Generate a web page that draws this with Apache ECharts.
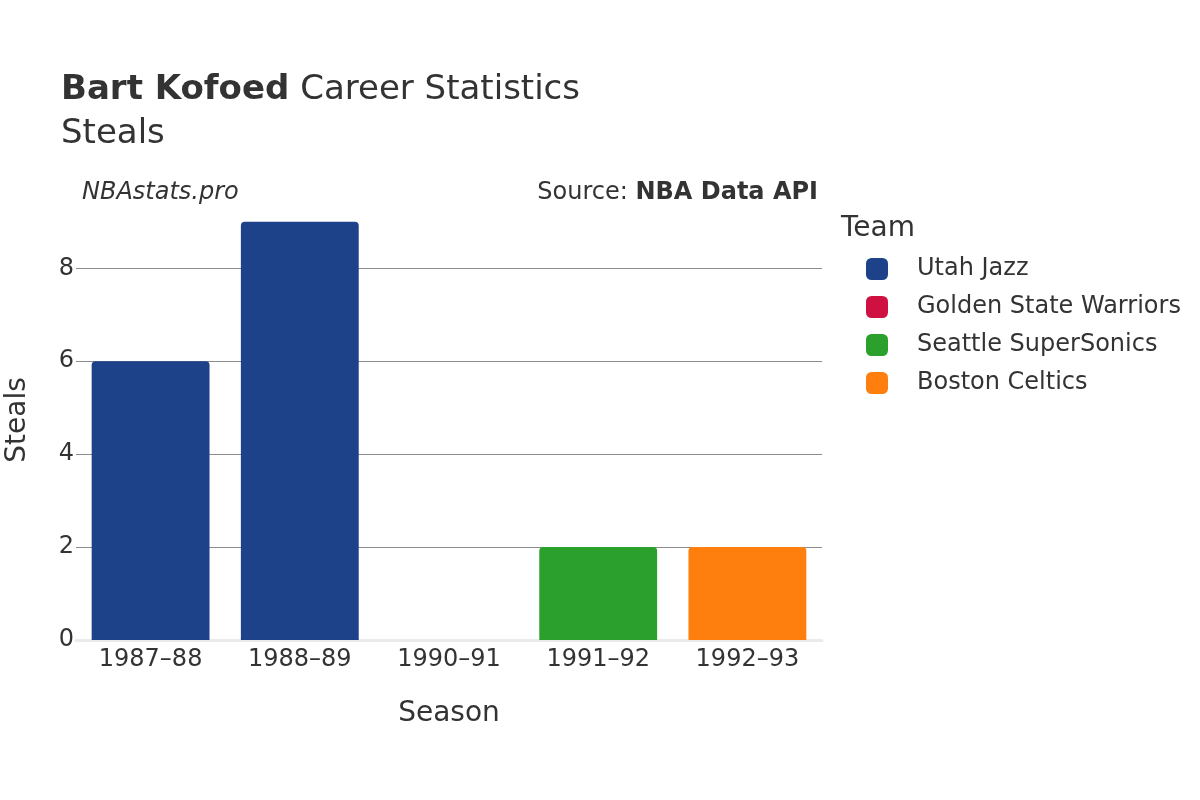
<!DOCTYPE html>
<html>
<head>
<meta charset="utf-8">
<script src="https://cdn.jsdelivr.net/npm/echarts@6/dist/echarts.min.js"></script>
<style>
  html, body { margin: 0; padding: 0; background: #fff; }
  #chart { width: 1200px; height: 800px; }
</style>
</head>
<body>
<div id="chart"></div>
<script>
// data
var seasons = ['1987–88', '1988–89', '1990–91', '1991–92', '1992–93'];
var teams = ['Utah Jazz', 'Golden State Warriors', 'Seattle SuperSonics', 'Boston Celtics'];
var teamColors = ['#1d428a', '#ce1141', '#2ca02c', '#ff7f0e'];
var utahJazz = [6, 9, '-', '-', '-'];
var goldenState = ['-', '-', 0, '-', '-'];
var seattle = ['-', '-', '-', 2, '-'];
var boston = ['-', '-', '-', '-', 2];
var yTicks = [0, 2, 4, 6, 8];

var teamValues = [utahJazz, goldenState, seattle, boston];
var font = 'DejaVu Sans';
var txt = '#333';

var myChart = echarts.init(document.getElementById('chart'));

var series = teams.map(function (name, i) {
  return {
    name: name,
    type: 'bar',
    stack: 'steals',
    barWidth: '79%',
    data: teamValues[i],
    itemStyle: { color: teamColors[i], borderRadius: [4, 4, 0, 0] }
  };
});

myChart.setOption({
  animation: false,
  textStyle: { fontFamily: font },
  color: teamColors,
  grid: { left: 76, right: 378, top: 200, bottom: 160, outerBoundsMode: 'none', containLabel: false },
  legend: {
    orient: 'vertical',
    left: 861,
    top: 252,
    itemWidth: 22,
    itemHeight: 22,
    itemGap: 14,
    icon: 'roundRect',
    data: teams,
    textStyle: { fontSize: 24, color: txt, fontFamily: font, padding: [0, 0, 0, 24] }
  },
  graphic: [
    {
      type: 'text', left: 61, top: 73,
      style: {
        text: '{b|Bart Kofoed} Career Statistics',
        font: '34px DejaVu Sans', fill: txt,
        rich: { b: { fontWeight: 'bold', fontSize: 34, fontFamily: font, fill: txt } }
      }
    },
    { type: 'text', left: 61, top: 117, style: { text: 'Steals', font: '34px DejaVu Sans', fill: txt } },
    { type: 'text', left: 82, top: 181, style: { text: 'NBAstats.pro', font: 'italic 24px DejaVu Sans', fill: txt } },
    {
      type: 'text', right: 382, top: 181,
      style: {
        text: 'Source: {b|NBA Data API}',
        font: '24px DejaVu Sans', fill: txt,
        rich: { b: { fontWeight: 'bold', fontSize: 24, fontFamily: font, fill: txt } }
      }
    },
    { type: 'text', left: 841, top: 215, style: { text: 'Team', font: '28px DejaVu Sans', fill: txt } }
  ],
  xAxis: {
    type: 'category',
    data: seasons,
    name: 'Season',
    nameLocation: 'middle',
    nameGap: 60,
    nameTextStyle: { fontSize: 28, color: txt },
    axisTick: { show: false },
    axisLine: { show: true, lineStyle: { color: '#ebebeb', width: 3 } },
    axisLabel: { fontSize: 24, color: txt, margin: 8 }
  },
  yAxis: {
    type: 'value',
    min: 0,
    max: 9.47,
    interval: 2,
    name: 'Steals',
    nameLocation: 'middle',
    nameGap: 44,
    nameTextStyle: { fontSize: 28, color: txt },
    axisLine: { show: false },
    axisTick: { show: false },
    axisLabel: {
      fontSize: 24, color: txt, margin: 2, showMaxLabel: false,
      formatter: function (v) { return yTicks.indexOf(v) >= 0 ? String(v) : ''; }
    },
    splitLine: { show: true, showMaxLine: false, showMinLine: false, lineStyle: { color: '#8c8c8c', width: 1 } }
  },
  series: series
});
</script>
</body>
</html>
